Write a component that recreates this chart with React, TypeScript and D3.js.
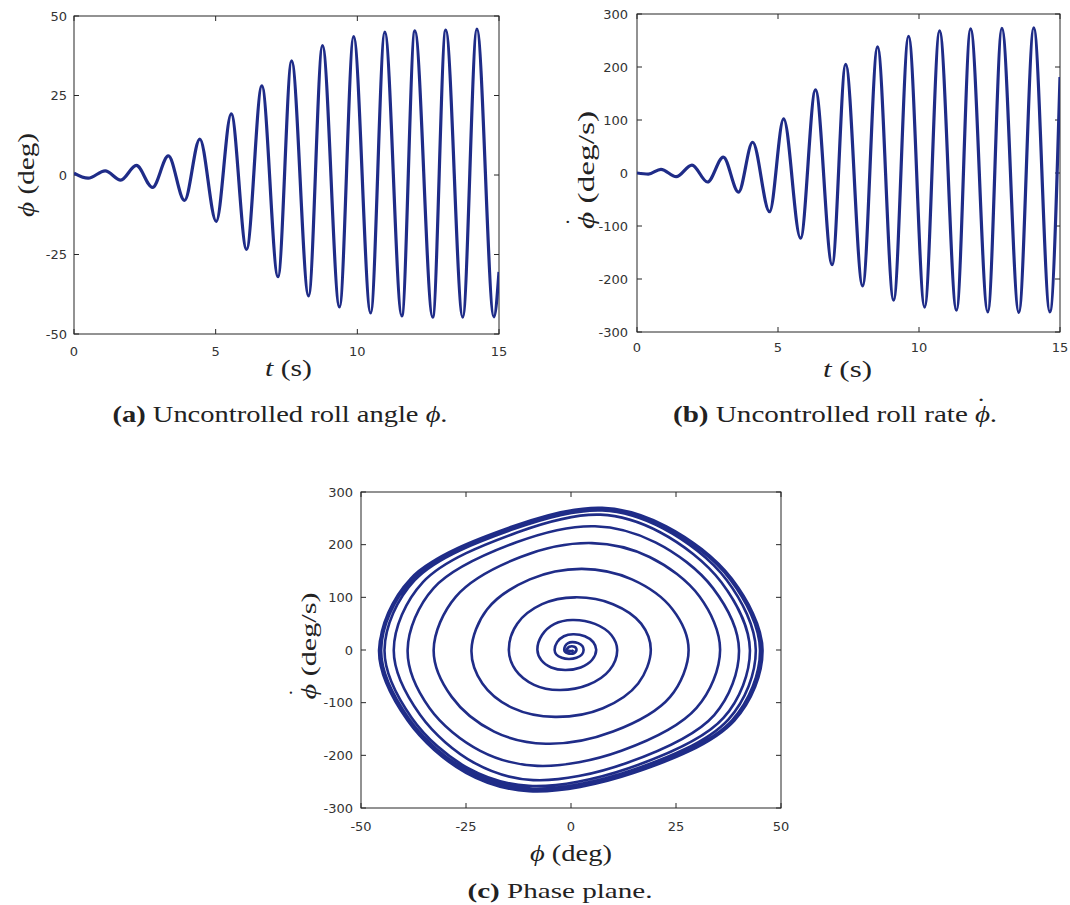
import React from 'react';
import * as d3 from 'd3';

// ---- Panel (a): roll angle phi extrema (t in s, phi in deg)
const tPhi = [0, 0.5, 1.1, 1.65, 2.2, 2.77, 3.33, 3.9, 4.44, 5.02, 5.55, 6.09, 6.63, 7.2, 7.68, 8.28, 8.77, 9.37, 9.87, 10.47, 10.97, 11.57, 12.03, 12.66, 13.12, 13.72, 14.22, 14.82, 15];
const phiVals = [0.6, -1, 1.3, -1.6, 3, -3.9, 6, -8, 11.3, -14.6, 19.2, -23.4, 28, -32, 35.9, -38, 40.7, -41.5, 43.5, -43.4, 44.9, -44.3, 45.3, -44.7, 45.6, -44.7, 45.9, -44.6, -30.5];

// ---- Panel (b): roll rate extrema (t in s, deg/s)
const tRate = [0, 0.4, 0.85, 1.39, 1.95, 2.5, 3.06, 3.6, 4.1, 4.7, 5.2, 5.8, 6.33, 6.92, 7.4, 8.0, 8.53, 9.1, 9.63, 10.2, 10.73, 11.33, 11.83, 12.44, 12.94, 13.54, 14.07, 14.64, 15];
const rateVals = [0, -2, 7, -7, 15, -17, 30, -36, 58, -73, 102, -123, 157, -173, 205, -213, 238, -240, 258, -253, 268, -259, 272, -262, 273, -263, 274, -262, 181];

// ---- Panel (c): phase plane trajectory (phi deg, phidot deg/s), 12 points per turn
const phasePhi = [
  0.6, 0.5, 0.3, 0, -0.5, -0.9, -1, -0.8, -0.4, 0.2, 0.8, 1.2,
  1.3, 1.1, 0.7, 0, -0.8, -1.4, -1.6, -1.4, -0.7, 0.3, 1.7, 2.7,
  3, 2.6, 1.3, -0.5, -2.2, -3.5, -3.9, -3.3, -1.7, 0.5, 3.3, 5.3,
  6, 5, 2.3, -1.4, -4.7, -7.1, -8, -6.9, -3.9, 0.3, 5.7, 9.6,
  11, 9.2, 4.1, -2.8, -8.8, -13.2, -14.8, -12.8, -6.9, 1, 10, 16.7,
  19, 16, 7.6, -3.8, -13.8, -21.1, -23.7, -20, -9.8, 2.6, 14.5, 24.2,
  28, 23.6, 10, -6, -18.3, -28.4, -32.7, -27.4, -12, 5, 18.7, 30.6,
  35.5, 29.9, 12, -8, -21.6, -33.7, -38.9, -32.7, -13, 5.7, 20.1, 33.8,
  40, 34.1, 13.1, -9, -22.9, -35.9, -42.2, -35.3, -12.7, 7, 21.2, 35.8,
  42.6, 36.3, 13.7, -10, -24.5, -37.9, -44.4, -37.2, -13.3, 7.4, 22, 37.1,
  44, 37.5, 14.3, -10, -24.8, -38.5, -45.2, -37.8, -13.6, 7.4, 22.4, 37.9,
  45, 38.4, 14.8, -10, -24.9, -38.8, -45.5, -38.1, -13.8, 7.4, 22.6, 38.2,
  45.4, 38.8, 14.9, -10, -25, -38.8, -45.6, -38.2, -13.8, 7.4, 22.7, 38.3,
  45.6, 38.9, 15, -10, -25, -38.9, -45.7, -38.2, -29.6,
];
const phaseRate = [
  0, -1, -1.7, -2, -1.7, -1, 0, 3.5, 6.1, 7, 6.1, 3.5,
  0, -3.5, -6.1, -7, -6.1, -3.5, 0, 7.5, 13, 15, 13, 7.5,
  0, -8.5, -14.8, -17, -14.8, -8.5, 0, 15, 26.1, 30, 26.1, 15,
  0, -19, -33.1, -38, -33.1, -19, 0, 28.5, 49.6, 57, 49.6, 28.5,
  0, -38, -66.1, -76, -66.1, -38, 0, 50, 87, 100, 87, 50,
  0, -63.5, -110.5, -127, -110.5, -63.5, 0, 77, 134, 154, 134, 77,
  0, -89, -154.9, -178, -154.9, -89, 0, 101.5, 176.6, 203, 176.6, 101.5,
  0, -110, -191.4, -220, -191.4, -110, 0, 117.5, 204.5, 235, 204.5, 117.5,
  0, -123.5, -214.9, -247, -214.9, -123.5, 0, 128.5, 223.6, 257, 223.6, 128.5,
  0, -129, -224.5, -258, -224.5, -129, 0, 132.5, 230.6, 265, 230.6, 132.5,
  0, -131.5, -228.8, -263, -228.8, -131.5, 0, 134, 233.2, 268, 233.2, 134,
  0, -133, -231.4, -266, -231.4, -133, 0, 134.5, 234, 269, 234, 134.5,
  0, -134, -233.2, -268, -233.2, -134, 0, 135, 234.9, 270, 234.9, 135,
  0, -134, -233.2, -268, -233.2, -134, 0, 135, 183,
];

// ---- Tick values
const ticksTime = [0, 5, 10, 15];
const ticksPhi = [-50, -25, 0, 25, 50];
const ticksRate = [-300, -200, -100, 0, 100, 200, 300];

const LINE = '#1f2c88';
const AXIS = '#262626';
const TICKFONT = 'DejaVu Sans, sans-serif';
const SERIF = 'Liberation Serif, DejaVu Serif, serif';
const PHI = '\u03D5';
const DOT = '\u02D9';

type Scale = d3.ScaleLinear<number, number>;

function Frame({ x, y, xt, yt, xOff, yOff, id }: { x: Scale; y: Scale; xt: number[]; yt: number[]; xOff: number; yOff: number; id: string }) {
  const [x0, x1] = x.range();
  const [y1, y0] = y.range();
  const tl = 5;
  return (
    <g>
      <rect x={x0} y={y0} width={x1 - x0} height={y1 - y0} fill="none" stroke={AXIS} strokeWidth={1} />
      {xt.map((v) => (
        <g key={'x' + v}>
          <line x1={x(v)} x2={x(v)} y1={y1} y2={y1 - tl} stroke={AXIS} />
          <line x1={x(v)} x2={x(v)} y1={y0} y2={y0 + tl} stroke={AXIS} />
          <text x={x(v)} y={y1 + xOff} textAnchor="middle" fontFamily={TICKFONT} fontSize={13} fill="#333">{v}</text>
        </g>
      ))}
      {yt.map((v) => (
        <g key={'y' + v}>
          <line x1={x0} x2={x0 + tl} y1={y(v)} y2={y(v)} stroke={AXIS} />
          <line x1={x1} x2={x1 - tl} y1={y(v)} y2={y(v)} stroke={AXIS} />
          <text x={x0 - yOff} y={y(v) + 4.5} textAnchor="end" fontFamily={TICKFONT} fontSize={13} fill="#333">{v}</text>
        </g>
      ))}
      <clipPath id={id}>
        <rect x={x0} y={y0} width={x1 - x0} height={y1 - y0} />
      </clipPath>
    </g>
  );
}

function RateLabel({ cy, base, len, size }: { cy: number; base: number; len: number; size: number }) {
  // rotated "phi-dot (deg/s)" label; local x runs along the text (bottom to top on screen)
  return (
    <g transform={`translate(${base},${cy}) rotate(-90)`}>
      <text x={0} y={0} textAnchor="middle" fontFamily={SERIF} fontSize={size} fill="#222" textLength={len} lengthAdjust="spacingAndGlyphs">
        <tspan fontStyle="italic">{PHI}</tspan> (deg/s)
      </text>
      <text x={-len / 2 + 7} y={-12} textAnchor="middle" fontFamily={SERIF} fontSize={size} fill="#222">{DOT}</text>
    </g>
  );
}

export default function App() {
  const xA = d3.scaleLinear().domain([0, 15]).range([74, 499]);
  const yA = d3.scaleLinear().domain([-50, 50]).range([334, 16]);
  const xB = d3.scaleLinear().domain([0, 15]).range([637, 1060]);
  const yB = d3.scaleLinear().domain([-300, 300]).range([332, 14]);
  const xC = d3.scaleLinear().domain([-50, 50]).range([361, 781]);
  const yC = d3.scaleLinear().domain([-300, 300]).range([808, 492]);

  const lineA = d3.line<number>().x((_, i) => xA(tPhi[i])).y((d) => yA(d)).curve(d3.curveMonotoneX);
  const lineB = d3.line<number>().x((_, i) => xB(tRate[i])).y((d) => yB(d)).curve(d3.curveMonotoneX);
  const lineC = d3.line<number>().x((d) => xC(d)).y((_, i) => yC(phaseRate[i])).curve(d3.curveCatmullRom.alpha(0.5));

  return (
    <svg width={1070} height={905} style={{ position: 'absolute', left: 0, top: 0, background: '#fff' }}>
      <rect width={1070} height={905} fill="#fff" />
      {/* Panel a */}
      <Frame x={xA} y={yA} xt={ticksTime} yt={ticksPhi} xOff={22} yOff={7} id="clipA" />
      <path d={lineA(phiVals) || ''} fill="none" stroke={LINE} strokeWidth={3.2} clipPath="url(#clipA)" strokeLinejoin="round" />
      <text transform="translate(34,175) rotate(-90)" textAnchor="middle" fontFamily={SERIF} fontSize={23} fill="#222" textLength={84} lengthAdjust="spacingAndGlyphs">
        <tspan fontStyle="italic">{PHI}</tspan> (deg)
      </text>
      <text x={288.5} y={376} textAnchor="middle" fontFamily={SERIF} fontSize={24} fill="#222" textLength={47} lengthAdjust="spacingAndGlyphs">
        <tspan fontStyle="italic">t</tspan> (s)
      </text>
      <text x={280} y={422} textAnchor="middle" fontFamily={SERIF} fontSize={23} fill="#222" textLength={335} lengthAdjust="spacingAndGlyphs">
        <tspan fontWeight="bold">(a)</tspan> Uncontrolled roll angle <tspan fontStyle="italic">{PHI}</tspan>.
      </text>

      {/* Panel b */}
      <Frame x={xB} y={yB} xt={ticksTime} yt={ticksRate} xOff={20} yOff={9} id="clipB" />
      <path d={lineB(rateVals) || ''} fill="none" stroke={LINE} strokeWidth={3.2} clipPath="url(#clipB)" strokeLinejoin="round" />
      <RateLabel cy={170} base={594} len={118} size={23} />
      <text x={847.5} y={377} textAnchor="middle" fontFamily={SERIF} fontSize={24} fill="#222" textLength={49} lengthAdjust="spacingAndGlyphs">
        <tspan fontStyle="italic">t</tspan> (s)
      </text>
      <text x={835} y={422} textAnchor="middle" fontFamily={SERIF} fontSize={23} fill="#222" textLength={324} lengthAdjust="spacingAndGlyphs">
        <tspan fontWeight="bold">(b)</tspan> Uncontrolled roll rate <tspan fontStyle="italic">{PHI}</tspan>
        <tspan dx={-11} dy={-8}>{DOT}</tspan>
        <tspan dx={3} dy={8}>.</tspan>
      </text>

      {/* Panel c */}
      <Frame x={xC} y={yC} xt={ticksPhi} yt={ticksRate} xOff={23} yOff={8} id="clipC" />
      <path d={lineC(phasePhi) || ''} fill="none" stroke={LINE} strokeWidth={2.6} clipPath="url(#clipC)" strokeLinejoin="round" />
      <RateLabel cy={646} base={316} len={107} size={22} />
      <text x={571} y={861} textAnchor="middle" fontFamily={SERIF} fontSize={23} fill="#222" textLength={82} lengthAdjust="spacingAndGlyphs">
        <tspan fontStyle="italic">{PHI}</tspan> (deg)
      </text>
      <text x={560} y={898} textAnchor="middle" fontFamily={SERIF} fontSize={21} fill="#222" textLength={185} lengthAdjust="spacingAndGlyphs">
        <tspan fontWeight="bold">(c)</tspan> Phase plane.
      </text>
    </svg>
  );
}
